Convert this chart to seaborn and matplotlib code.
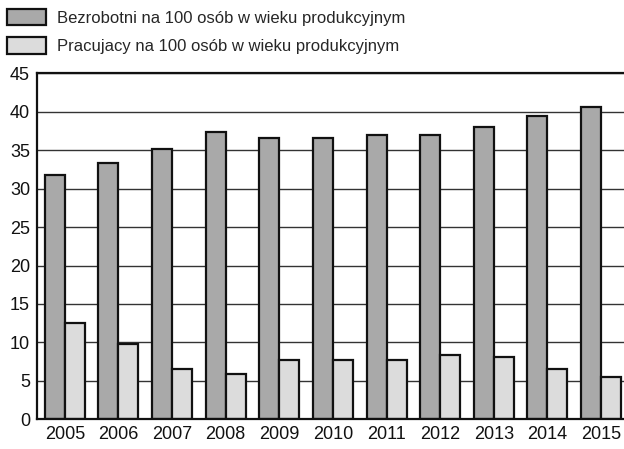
import seaborn as sns
import pandas as pd
import matplotlib.pyplot as plt
import matplotlib.patches as mpatches

# Dane
lata = ['2005', '2006', '2007', '2008', '2009', '2010', '2011', '2012', '2013', '2014', '2015']
bezrobotni = [31.8, 33.3, 35.1, 37.4, 36.6, 36.6, 37.0, 37.0, 38.0, 39.5, 40.6]
pracujacy = [12.5, 9.8, 6.6, 5.9, 7.7, 7.7, 7.7, 8.4, 8.1, 6.6, 5.5]
serie = ['Bezrobotni na 100 osób w wieku produkcyjnym',
         'Pracujacy na 100 osób w wieku produkcyjnym']
kolory = ['#a9a9a9', '#dcdcdc']

df = pd.DataFrame({
    'rok': lata * 2,
    'wartosc': bezrobotni + pracujacy,
    'seria': [serie[0]] * len(lata) + [serie[1]] * len(lata),
})

sns.set_style('white')
plt.rcParams['font.family'] = ['Liberation Sans', 'DejaVu Sans']

fig = plt.figure(figsize=(6.24, 4.49), dpi=100)
ax = fig.add_axes([37 / 624, 29.7 / 449, 590.8 / 624, 346 / 449])

sns.barplot(data=df, x='rok', y='wartosc', hue='seria', palette=kolory,
            width=0.746, edgecolor='#111111', linewidth=1.6, legend=False, ax=ax)

ax.set_xlim(-0.52, 10.5)
ax.set_ylim(0, 45)
ax.set_yticks(range(0, 46, 5))
ax.set_xlabel('')
ax.set_ylabel('')
ax.grid(axis='y', color='#333333', linewidth=1.0)
ax.set_axisbelow(True)
ax.tick_params(axis='both', length=0, labelsize=13, colors='#111111')
ax.tick_params(axis='y', pad=5)
ax.tick_params(axis='x', pad=5)
for s in ['left', 'bottom', 'top']:
    ax.spines[s].set_visible(True)
    ax.spines[s].set_color('#111111')
    ax.spines[s].set_linewidth(1.6)
ax.spines['right'].set_visible(False)

# legenda nad wykresem
uchwyty = [mpatches.Patch(facecolor=kolory[i], edgecolor='#111111', linewidth=1.6, label=serie[i])
           for i in range(2)]
fig.legend(handles=uchwyty, loc='upper left', bbox_to_anchor=(0.0, 0.995),
           frameon=False, fontsize=12, handlelength=2.35, handleheight=1.14,
           handletextpad=0.65, labelspacing=0.7, borderaxespad=0)

fig.savefig('out.png', dpi=100)
